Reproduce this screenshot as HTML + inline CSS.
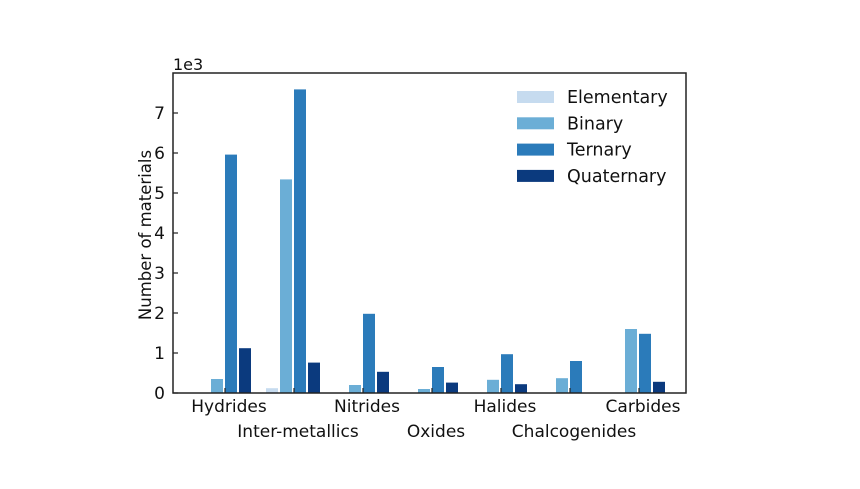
<!DOCTYPE html>
<html><head><meta charset="utf-8"><style>
body{margin:0;background:#fff;}
svg text{font-family:"DejaVu Sans","Liberation Sans",sans-serif;fill:#111;}
</style></head><body>
<svg width="860" height="484" viewBox="0 0 860 484">
<g id="plot"></g>
</svg>
<script>
const categories=["Hydrides","Inter-metallics","Nitrides","Oxides","Halides","Chalcogenides","Carbides"];
const seriesNames=["Elementary","Binary","Ternary","Quaternary"];
const elementary=[0,0.12,0,0,0,0,0];
const binary=[0.35,5.34,0.2,0.1,0.33,0.37,1.6];
const ternary=[5.96,7.59,1.98,0.65,0.97,0.8,1.48];
const quaternary=[1.12,0.76,0.53,0.26,0.22,0,0.28];
const yTicks=[0,1,2,3,4,5,6,7];
const colors=["#c6dbef","#6baed6","#2b7bba","#0b3a7e"];
const series=[elementary,binary,ternary,quaternary];
const L=173,R=686,T=73,B=393,yMax=8;
const ns="http://www.w3.org/2000/svg";
const g=document.getElementById('plot');
function y(v){return B-(v/yMax)*(B-T);}
function gx(i){return 225+i*69;}
function mk(t,a,p){const e=document.createElementNS(ns,t);for(const k in a)e.setAttribute(k,a[k]);(p||g).appendChild(e);return e;}
series.forEach((s,si)=>{s.forEach((v,i)=>{
 const r=mk('rect',{x:gx(i)-28+si*14,y:y(v),width:12,height:B-y(v),fill:colors[si]});
 
 
});});
const fr=mk('rect',{x:L,y:T,width:R-L,height:B-T,fill:'none',stroke:'#222','stroke-width':1.5});


yTicks.forEach(t=>{
 mk('line',{x1:L,x2:L+5,y1:y(t),y2:y(t),stroke:'#222','stroke-width':1.2});
 const tx=mk('text',{x:L-8,y:y(t)+6,'text-anchor':'end','font-size':17});tx.textContent=t;
 
 
});
categories.forEach((c,i)=>{
 mk('line',{x1:gx(i),x2:gx(i),y1:B,y2:B-5,stroke:'#222','stroke-width':1.2});
 const tx=mk('text',{x:gx(i)+4,y:i%2?437:412,'text-anchor':'middle','font-size':17});tx.textContent=c;
 
 
});
const yl=mk('text',{x:0,y:0,'text-anchor':'middle','font-size':16.5,transform:'translate(151,235) rotate(-90)'});yl.textContent='Number of materials';


const ex=mk('text',{x:L,y:70,'font-size':16});ex.textContent='1e3';


seriesNames.forEach((n,si)=>{
 const cy=97+si*26.3;
 const r=mk('rect',{x:517,y:cy-6,width:37,height:12,fill:colors[si]});
 
 
 const tx=mk('text',{x:567,y:cy+6,'font-size':17.5});tx.textContent=n;
 
 
});
</script>
</body></html>
